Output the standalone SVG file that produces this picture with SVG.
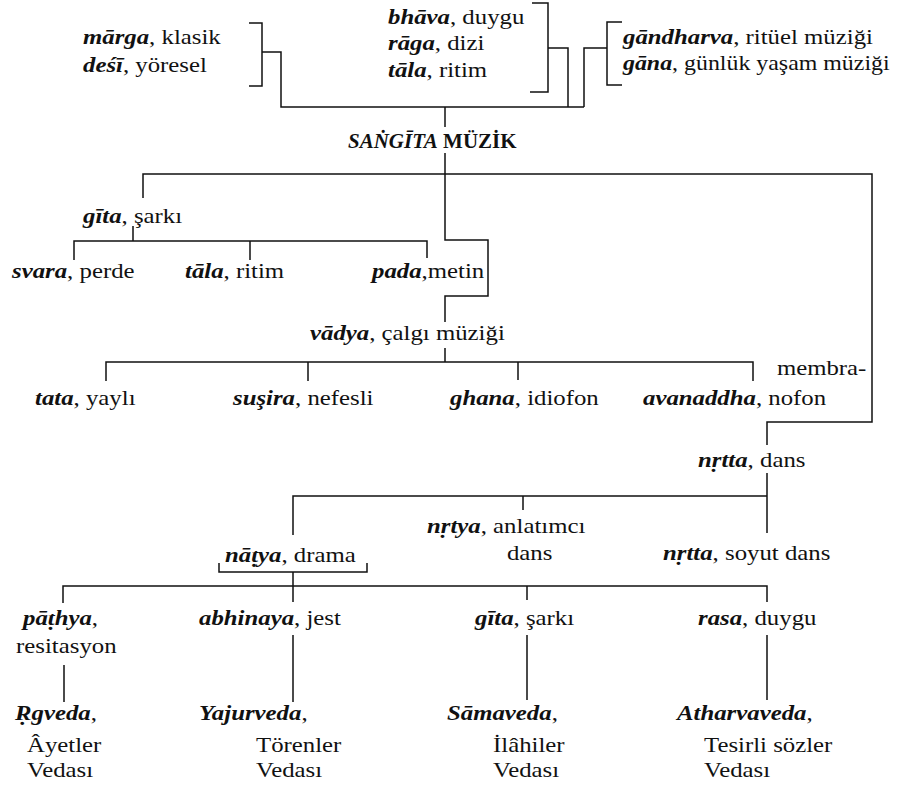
<svg xmlns="http://www.w3.org/2000/svg" width="897" height="787" viewBox="0 0 897 787">
<style>
text{font-family:'Liberation Serif','DejaVu Serif',serif;font-size:20px;fill:#111}
.s{font-style:italic;font-weight:bold}
.b{font-weight:bold}
#connectors path{fill:none;stroke:#111;stroke-width:1.5}
</style>
<rect width="897" height="787" fill="#fff"/>
<g id="connectors">
<path d="M249,23 H262 V86 H249 M262,52 H281 V107 H584"/>
<path d="M532,3 H548 V92 H530 M548,48 H568 V107"/>
<path d="M622,22 H607 V85 H622 M607,48 H584 V107"/>
<path d="M445,107 V127"/>
<path d="M143,198 V174 H872 V422 H767 V445"/>
<path d="M445,153 V240 H488 V296 H445 V322"/>
<path d="M445,348 V362 M106,381 V362 H753 V381 M308,362 V381 M518,362 V380"/>
<path d="M133,226 V241 M74,260 V241 H427 V258 M250,241 V260"/>
<path d="M767,473 V533 M293,535 V496 H767 M523,496 V510"/>
<path d="M219,563 V572 H367 V563 M293,572 V602 M63,603 V586 H767 V602 M527,586 V600"/>
<path d="M64,665 V702 M293,635 V702 M527,635 V700 M767,635 V700"/>
</g>
<g id="nodes" font-family="'Liberation Serif', 'DejaVu Serif', serif">
<g id="marga" transform="translate(83 44) scale(1.24 1)"><text><tspan class="s">mārga</tspan>, klasik</text></g>
<g id="desi" transform="translate(83 72) scale(1.24 1)"><text><tspan class="s">deśī</tspan>, yöresel</text></g>
<g id="bhava" transform="translate(388 24) scale(1.24 1)"><text><tspan class="s">bhāva</tspan>, duygu</text></g>
<g id="raga" transform="translate(388 50) scale(1.24 1)"><text><tspan class="s">rāga</tspan>, dizi</text></g>
<g id="tala-top" transform="translate(388 77) scale(1.24 1)"><text><tspan class="s">tāla</tspan>, ritim</text></g>
<g id="gandharva" transform="translate(623 44) scale(1.24 1)"><text><tspan class="s">gāndharva</tspan>, ritüel müziği</text></g>
<g id="gana" transform="translate(623 70) scale(1.24 1)"><text textLength="215" lengthAdjust="spacingAndGlyphs"><tspan class="s">gāna</tspan>, günlük yaşam müziği</text></g>
<g id="sangita" transform="translate(348 148) scale(1.05 1)"><text font-size="21"><tspan class="s">SAṄGĪTA</tspan> <tspan class="b">MÜZİK</tspan></text></g>
<g id="gita" transform="translate(83 223) scale(1.24 1)"><text><tspan class="s">gīta</tspan>, şarkı</text></g>
<g id="svara" transform="translate(12 278) scale(1.24 1)"><text><tspan class="s">svara</tspan>, perde</text></g>
<g id="tala" transform="translate(185 278) scale(1.24 1)"><text><tspan class="s">tāla</tspan>, ritim</text></g>
<g id="pada" transform="translate(372 278) scale(1.24 1)"><text><tspan class="s">pada</tspan>,metin</text></g>
<g id="vadya" transform="translate(310 340) scale(1.24 1)"><text><tspan class="s">vādya</tspan>, çalgı müziği</text></g>
<g id="tata" transform="translate(35 405) scale(1.24 1)"><text><tspan class="s">tata</tspan>, yaylı</text></g>
<g id="susira" transform="translate(233 405) scale(1.24 1)"><text><tspan class="s">suşira</tspan>, nefesli</text></g>
<g id="ghana" transform="translate(450 405) scale(1.24 1)"><text><tspan class="s">ghana</tspan>, idiofon</text></g>
<g id="avanaddha" transform="translate(643 405) scale(1.24 1)"><text><tspan class="s">avanaddha</tspan>, nofon</text><text x="108" y="-30">membra-</text></g>
<g id="nrtta" transform="translate(698 467) scale(1.24 1)"><text><tspan class="s">nṛtta</tspan>, dans</text></g>
<g id="natya" transform="translate(225 562) scale(1.24 1)"><text><tspan class="s">nāṭya</tspan>, drama</text></g>
<g id="nrtya" transform="translate(427 533) scale(1.24 1)"><text><tspan class="s">nṛtya</tspan>, anlatımcı</text><text x="64.5" y="27">dans</text></g>
<g id="nrtta-soyut" transform="translate(663 560) scale(1.24 1)"><text><tspan class="s">nṛtta</tspan>, soyut dans</text></g>
<g id="pathya" transform="translate(23 625) scale(1.24 1)"><text><tspan class="s">pāṭhya</tspan>,</text><text x="-5.6" y="28">resitasyon</text></g>
<g id="abhinaya" transform="translate(199 625) scale(1.24 1)"><text><tspan class="s">abhinaya</tspan>, jest</text></g>
<g id="gita2" transform="translate(475 625) scale(1.24 1)"><text><tspan class="s">gīta</tspan>, şarkı</text></g>
<g id="rasa" transform="translate(698 625) scale(1.24 1)"><text><tspan class="s">rasa</tspan>, duygu</text></g>
<g id="rgveda" transform="translate(15 720) scale(1.24 1)"><text><tspan class="s">Ṛgveda</tspan>,</text><text x="9.7" y="32">Âyetler</text><text x="9.7" y="57">Vedası</text></g>
<g id="yajurveda" transform="translate(199 720) scale(1.24 1)"><text><tspan class="s">Yajurveda</tspan>,</text><text x="46" y="32">Törenler</text><text x="46" y="57">Vedası</text></g>
<g id="samaveda" transform="translate(447 720) scale(1.24 1)"><text><tspan class="s">Sāmaveda</tspan>,</text><text x="37.1" y="32">İlâhiler</text><text x="37.1" y="57">Vedası</text></g>
<g id="atharvaveda" transform="translate(677 720) scale(1.24 1)"><text><tspan class="s">Atharvaveda</tspan>,</text><text x="21.8" y="32">Tesirli sözler</text><text x="21.8" y="57">Vedası</text></g>
</g>
</svg>
